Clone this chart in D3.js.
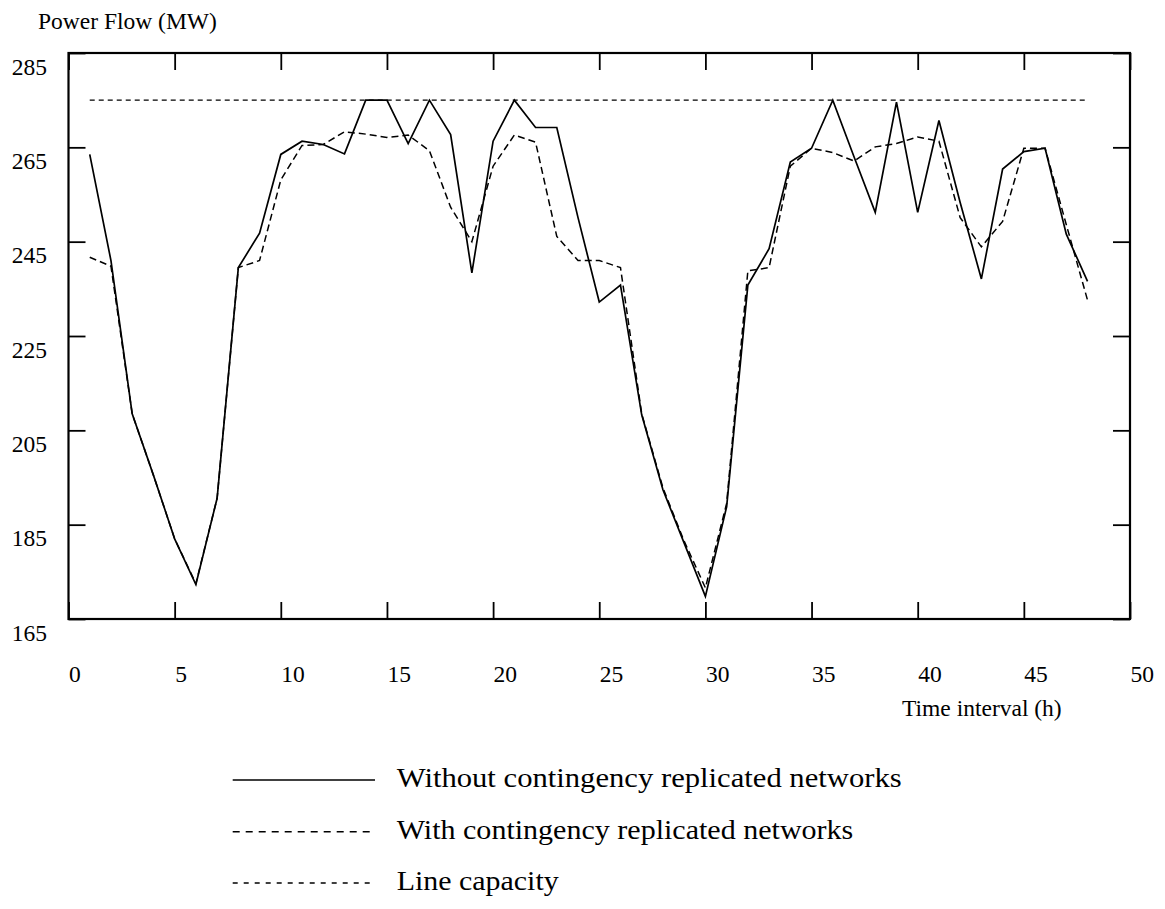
<!DOCTYPE html>
<html>
<head>
<meta charset="utf-8">
<script src="https://cdn.jsdelivr.net/npm/d3@7"></script>
<style>
  html, body { margin: 0; padding: 0; background: #fff; }
  svg { display: block; font-family: "Liberation Serif", "Times New Roman", serif; }
</style>
</head>
<body>
<svg id="chart" width="1165" height="909"></svg>
<script>
// ---- data ----
const hours = d3.range(1, 49);
const withoutReplicated = [263.5, 241, 208.5, 195.5, 182, 172.3, 190.6, 239.5, 246.8, 263.5,
  266.3, 265.6, 263.6, 275, 275, 265.8, 275, 267.7, 238.4, 266.3,
  275, 269.2, 269.2, 250.1, 232.2, 235.8, 208.3, 192.4, 181.1, 169.8,
  188.8, 235.8, 243.5, 261.9, 264.8, 275, 263, 251.2, 274.6, 251.2,
  270.7, 253.3, 237.1, 260.4, 264.1, 264.8, 246.6, 236.6];
const withReplicated = [241.7, 239.8, 208.5, 195.5, 182, 172.5, 190.6, 239.5, 241, 258.1,
  265.4, 265.6, 268.3, 267.8, 267.1, 267.6, 264.3, 252.3, 245, 261,
  267.6, 266.1, 246.1, 241, 241, 239.5, 208.5, 192.8, 181.5, 171.6,
  189.5, 238.8, 239.5, 261, 264.8, 263.9, 262.1, 265.1, 265.8, 267.2,
  266.3, 250.1, 243.9, 249.3, 264.8, 264.8, 248.6, 232.6];
const lineCapacity = hours.map(() => 275);
const xTicks = [0, 5, 10, 15, 20, 25, 30, 35, 40, 45, 50];
const yTicks = [165, 185, 205, 225, 245, 265, 285];
const legendLabels = ["Without contingency replicated networks", "With contingency replicated networks", "Line capacity"];

// ---- layout ----
const svg = d3.select("#chart");
const L = 68.5, R = 1130, T = 53, B = 619;
const x = d3.scaleLinear().domain([0, 50]).range([L, R]);
const y = d3.scaleLinear().domain([165, 285]).range([B, T]);
const FS = 23.5;

// axes (inward ticks on all four sides)
const tickLen = 17;
const gB = svg.append("g").attr("transform", `translate(0,${B})`)
  .call(d3.axisBottom(x).tickValues(xTicks).tickSizeInner(-tickLen).tickSizeOuter(0).tickFormat(d3.format("d")));
const gT = svg.append("g").attr("transform", `translate(0,${T})`)
  .call(d3.axisTop(x).tickValues(xTicks).tickSizeInner(-tickLen).tickSizeOuter(0).tickFormat(""));
const gL = svg.append("g").attr("transform", `translate(${L},0)`)
  .call(d3.axisLeft(y).tickValues(yTicks).tickSizeInner(-tickLen).tickSizeOuter(0).tickFormat(d3.format("d")));
const gR = svg.append("g").attr("transform", `translate(${R},0)`)
  .call(d3.axisRight(y).tickValues(yTicks).tickSizeInner(-tickLen).tickSizeOuter(0).tickFormat(""));

[gB, gT, gL, gR].forEach(g => {
  g.select(".domain").remove();
  g.selectAll(".tick line").attr("stroke", "#000").attr("stroke-width", 1.8);
  g.selectAll("text").attr("fill", "#000").style("font-size", FS + "px")
    .style("font-family", '"Liberation Serif", "Times New Roman", serif');
});
gB.selectAll(".tick text").attr("text-anchor", "start").attr("x", 0).attr("dy", null).attr("y", 63);
gL.selectAll(".tick text").attr("text-anchor", "end").attr("x", 47 - L).attr("dy", null).attr("y", 21);

// frame
svg.append("rect").attr("x", L).attr("y", T).attr("width", R - L).attr("height", B - T)
  .attr("fill", "none").attr("stroke", "#000").attr("stroke-width", 2.2);

// lines
const line = d3.line().x((d, i) => x(hours[i])).y(d => y(d));
svg.append("path").datum(lineCapacity).attr("d", line)
  .attr("fill", "none").attr("stroke", "#000").attr("stroke-width", 1.3).attr("stroke-dasharray", "5,4");
svg.append("path").datum(withReplicated).attr("d", line)
  .attr("fill", "none").attr("stroke", "#000").attr("stroke-width", 1.5).attr("stroke-dasharray", "7,4");
svg.append("path").datum(withoutReplicated).attr("d", line)
  .attr("fill", "none").attr("stroke", "#000").attr("stroke-width", 1.7).attr("stroke-linejoin", "miter");

// axis titles
svg.append("text").attr("x", 38).attr("y", 29).style("font-size", FS + "px").text("Power Flow (MW)");
svg.append("text").attr("x", 902).attr("y", 716).style("font-size", FS + "px").text("Time interval (h)");

// legend
const legendY = [780, 831.7, 883];
const legendDash = [null, "7,6", "5,6"];
const legendWidth = [1.7, 1.5, 1.3];
const legendTextLen = [505, 456.6, 162];
legendLabels.forEach((lab, i) => {
  svg.append("line").attr("x1", 232.7).attr("x2", 375).attr("y1", legendY[i]).attr("y2", legendY[i])
    .attr("stroke", "#000").attr("stroke-width", legendWidth[i]).attr("stroke-dasharray", legendDash[i]);
  svg.append("text").attr("x", 396.7).attr("y", legendY[i] + 7).style("font-size", "28px")
    .attr("textLength", legendTextLen[i]).attr("lengthAdjust", "spacingAndGlyphs").text(lab);
});
</script>
</body>
</html>
